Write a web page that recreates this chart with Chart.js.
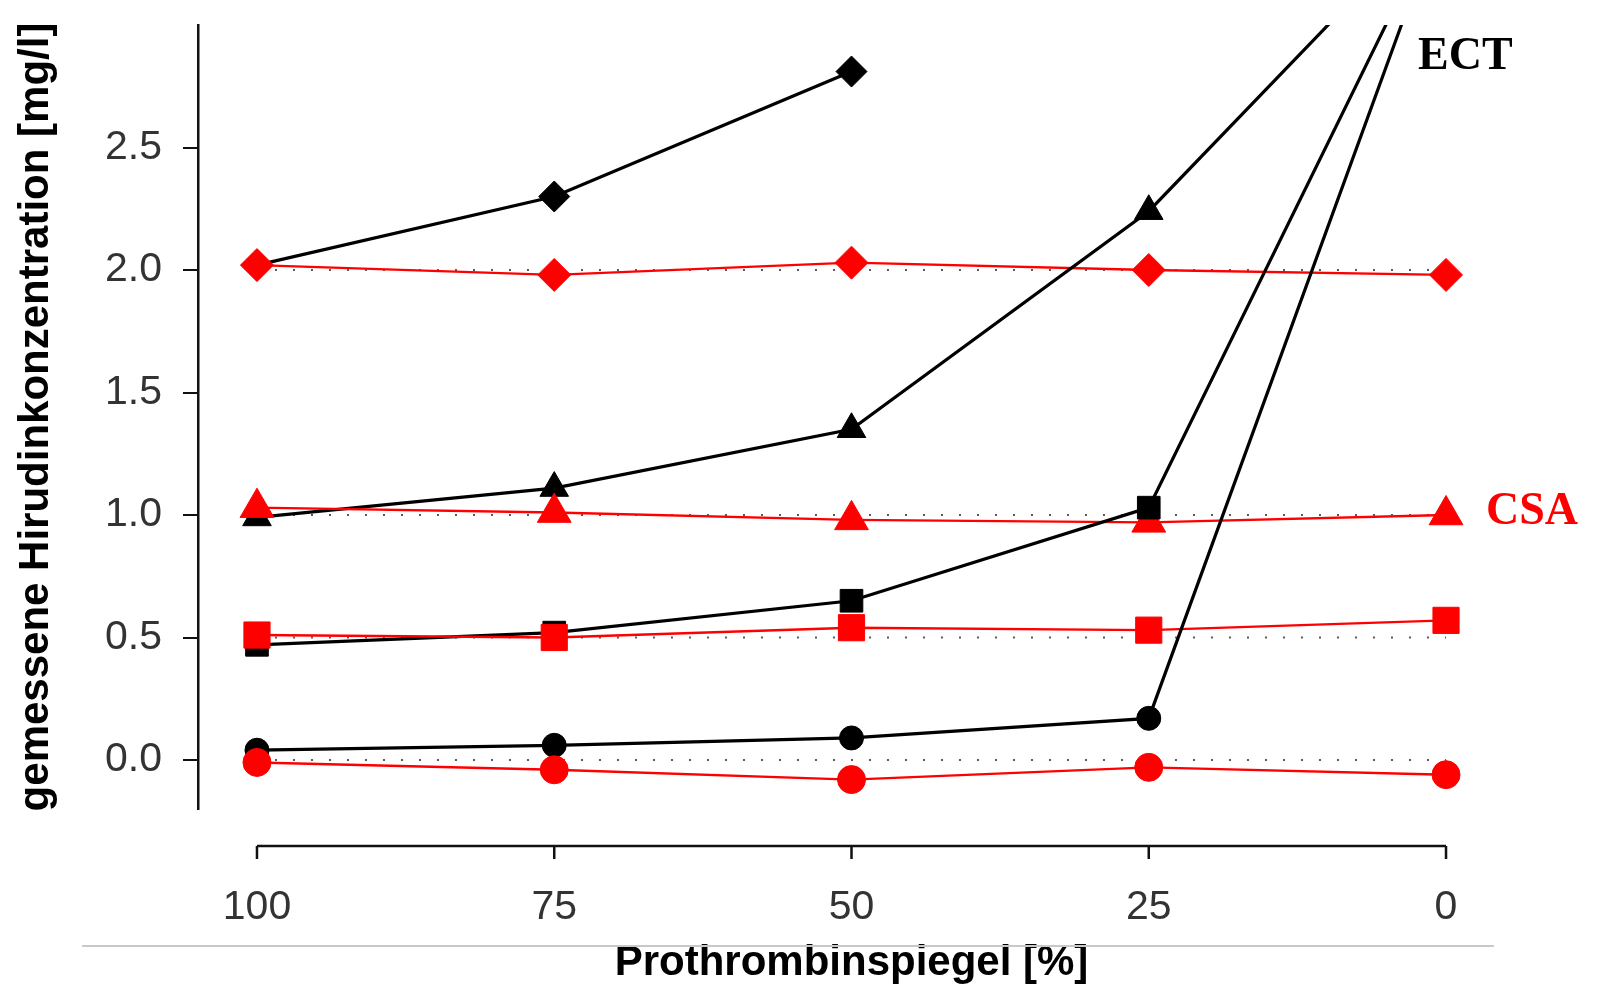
<!DOCTYPE html>
<html>
<head>
<meta charset="utf-8">
<script src="https://cdn.jsdelivr.net/npm/chart.js@4.4.1/dist/chart.umd.min.js"></script>
<style>
html, body { margin: 0; padding: 0; background: #fff; }
</style>
</head>
<body>
<canvas id="myChart" width="1599" height="991"></canvas>
<script>
// Prothrombin level [%] (x) and measured hirudin concentration [mg/l] (y)
const prothrombin = [100, 75, 50, 25, 0];
const xTicks = [100, 75, 50, 25, 0];
const yTicks = [0, 0.5, 1, 1.5, 2, 2.5];
const spikeLevels = [0, 0.5, 1, 2];

// ECT (black)
const ectCircle = [0.04, 0.06, 0.09, 0.17, 3.5];
const ectSquare = [0.47, 0.52, 0.65, 1.03, 3.5];
const ectTriangle = [0.99, 1.11, 1.35, 2.24, 3.5];
const ectDiamond = [2.02, 2.30, 2.81, null, null];

// CSA (red)
const csaCircle = [-0.01, -0.04, -0.08, -0.03, -0.06];
const csaSquare = [0.51, 0.50, 0.54, 0.53, 0.57];
const csaTriangle = [1.03, 1.01, 0.98, 0.97, 1.00];
const csaDiamond = [2.02, 1.98, 2.03, 2.00, 1.98];

const sans = "'Liberation Sans', Arial, Helvetica, sans-serif";
const serif = "'Liberation Serif', 'Times New Roman', serif";

function pts(arr) {
    return prothrombin.map((x, i) => ({ x: x, y: arr[i] })).filter(p => p.y !== null);
}

function series(arr, color, style, radius, width) {
    return {
        data: pts(arr),
        borderColor: color,
        borderWidth: width,
        backgroundColor: color,
        pointBackgroundColor: color,
        pointBorderColor: color,
        pointBorderWidth: 1,
        pointStyle: style,
        pointRadius: radius,
        tension: 0
    };
}

// dotted lines at the spiked concentrations
const refLines = spikeLevels.map(v => ({
    data: pts(prothrombin.map(() => v)),
    borderColor: 'rgba(0,0,0,0.65)',
    borderWidth: 2,
    borderDash: [2, 16],
    pointRadius: 0,
    tension: 0
}));

// listed bottom to top
const datasets = refLines.concat([
    series(ectDiamond, '#000', 'rectRot', 15.5, 3.2),
    series(csaDiamond, '#ff0000', 'rectRot', 16.5, 2.4),
    series(ectTriangle, '#000', 'triangle', 16.5, 3.2),
    series(csaTriangle, '#ff0000', 'triangle', 19.5, 2.4),
    series(ectSquare, '#000', 'rect', 16, 3.2),
    series(csaSquare, '#ff0000', 'rect', 18.5, 2.4),
    series(ectCircle, '#000', 'circle', 12, 3.2),
    series(csaCircle, '#ff0000', 'circle', 14, 2.4)
]);
datasets.forEach((d, i) => { d.order = -i; });

// bottom axis only spans the data range, set below the plot
const extras = {
    id: 'extras',
    afterDraw(chart) {
        const ctx = chart.ctx;
        const xs = chart.scales.x;
        const ys = chart.scales.y;
        const axisY = chart.chartArea.bottom + 37;
        ctx.save();
        ctx.strokeStyle = '#111';
        ctx.lineWidth = 2.5;
        ctx.beginPath();
        ctx.moveTo(xs.getPixelForValue(100), axisY);
        ctx.lineTo(xs.getPixelForValue(0), axisY);
        xTicks.forEach(v => {
            const px = xs.getPixelForValue(v);
            ctx.moveTo(px, axisY);
            ctx.lineTo(px, axisY + 13);
        });
        ctx.stroke();

        // separator above the axis title
        ctx.strokeStyle = '#c8c8c8';
        ctx.lineWidth = 2;
        ctx.beginPath();
        ctx.moveTo(82, 946);
        ctx.lineTo(1494, 946);
        ctx.stroke();

        ctx.font = 'bold 46px ' + serif;
        ctx.textBaseline = 'alphabetic';
        ctx.textAlign = 'left';
        ctx.fillStyle = '#000';
        ctx.fillText('ECT', xs.getPixelForValue(0) - 28, 69);
        ctx.fillStyle = '#ff0000';
        ctx.textBaseline = 'middle';
        ctx.fillText('CSA', xs.getPixelForValue(0) + 40, ys.getPixelForValue(1) - 3);
        ctx.restore();
    }
};

const config = {
    type: 'line',
    data: { datasets: datasets },
    options: {
        responsive: false,
        animation: false,
        devicePixelRatio: 1,
        layout: { padding: { top: 25, right: 94, left: 0, bottom: 0 } },
        plugins: {
            legend: { display: false },
            tooltip: { enabled: false }
        },
        scales: {
            x: {
                type: 'linear',
                reverse: true,
                min: -4.96,
                max: 104.96,
                afterBuildTicks: (s) => { s.ticks = xTicks.map(v => ({ value: v })); },
                afterFit: (s) => { s.height = 182; s.paddingLeft = 0; s.paddingRight = 0; },
                grid: { display: false, drawTicks: false },
                border: { display: false },
                ticks: {
                    font: { family: sans, size: 41 },
                    color: '#333',
                    padding: 74,
                    maxRotation: 0,
                    callback: (v) => String(v)
                },
                title: {
                    display: true,
                    text: 'Prothrombinspiegel [%]',
                    font: { family: sans, size: 42, weight: 'bold' },
                    color: '#000',
                    padding: { top: 0, bottom: 2 }
                }
            },
            y: {
                type: 'linear',
                min: -0.2,
                max: 3.0,
                afterBuildTicks: (s) => { s.ticks = yTicks.map(v => ({ value: v })); },
                afterFit: (s) => { s.width = 198; s.paddingTop = 0; s.paddingBottom = 0; },
                grid: {
                    drawOnChartArea: false,
                    drawTicks: true,
                    tickLength: 15,
                    tickColor: '#111',
                    lineWidth: 2
                },
                border: { display: true, color: '#111', width: 2.5 },
                ticks: {
                    font: { family: sans, size: 41 },
                    color: '#333',
                    padding: 21,
                    callback: (v) => v.toFixed(1)
                },
                title: {
                    display: true,
                    text: 'gemessene Hirudinkonzentration [mg/l]',
                    font: { family: sans, size: 42, weight: 'bold' },
                    color: '#000',
                    padding: { top: 11, bottom: 0 }
                }
            }
        }
    },
    plugins: [extras]
};

var myChart = new Chart('myChart', config);
</script>
</body>
</html>
